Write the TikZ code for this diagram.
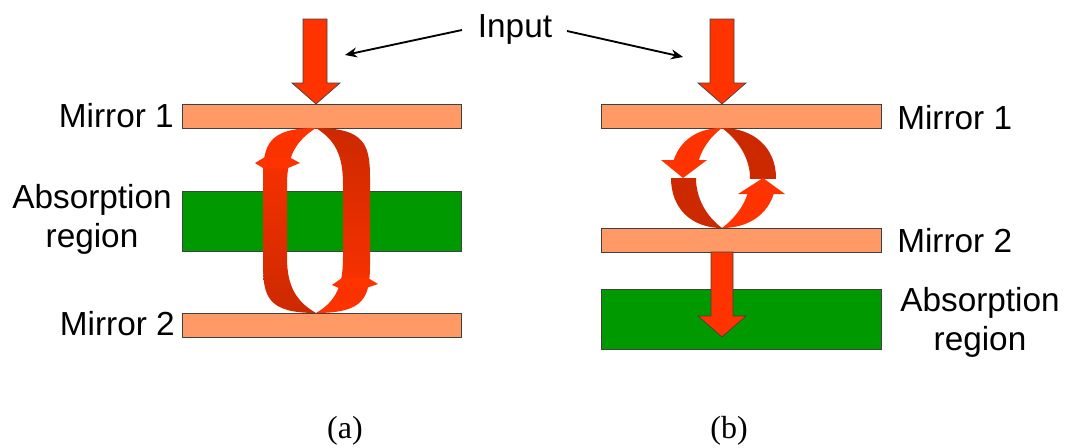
\documentclass[tikz,border=0pt]{standalone}
\usepackage{fontspec}
\setmainfont{Liberation Serif}
\newfontfamily\arialf{Liberation Sans}
\usetikzlibrary{arrows.meta}
\definecolor{bright}{HTML}{FF3300}
\definecolor{dark}{HTML}{CC2900}
\definecolor{mirrorc}{HTML}{FF9966}
\definecolor{greenc}{HTML}{009900}
\definecolor{edgec}{HTML}{404040}
\begin{document}
\begin{tikzpicture}[x=0.75pt,y=-0.75pt,
  lbl/.style={font=\arialf\fontsize{25}{29.25}\selectfont, inner sep=0pt},
  caption/.style={font=\fontsize{24}{28}\selectfont, inner sep=0pt},
  mirror/.style={fill=mirrorc, draw=edgec, line width=0.6pt},
  absorber/.style={fill=greenc, draw=edgec, line width=0.6pt},
  blockarrow/.style={fill=bright, draw=edgec, line width=0.5pt, line join=miter},
  pointer/.style={draw=black, line width=1.4pt, -{Stealth[length=9pt,width=7.5pt]}},
]
\useasboundingbox (0,0) rectangle (1071,447);

% ---------- panel (a) ----------
\path[mirror] (182,104) rectangle (461,128);
\path[absorber] (182,191) rectangle (461,251);
\path[mirror] (182,313) rectangle (461,337);
\path[blockarrow] (303,19) -- (327,19) -- (327,83) -- (340,83) -- (316,104) -- (292,83) -- (303,83) -- cycle;

\path[top color=bright, middle color=bright!85!dark, bottom color=dark]
 (316,128) .. controls (268,128) and (263,145) .. (263,178) -- (263,264)
 .. controls (263,297) and (268,313) .. (316,313)
 .. controls (297,302) and (287,287) .. (287,258) -- (287,184)
 .. controls (287,155) and (297,140) .. (316,128) -- cycle;
\path[top color=dark, middle color=dark!60!bright, bottom color=bright]
 (316,128) .. controls (365,128) and (370,145) .. (370,178) -- (370,264)
 .. controls (370,297) and (365,313) .. (316,313)
 .. controls (335,302) and (343,287) .. (343,258) -- (343,184)
 .. controls (343,155) and (335,140) .. (316,128) -- cycle;
\fill[bright] (255,163) -- (265,157) -- (289,157) -- (300,163) -- (288,168) -- (263,168) -- cycle;
\fill[bright] (332,285) -- (342,278) -- (368,278) -- (378,284) -- (366,288) -- (341,289) -- cycle;

\node[lbl, anchor=base east] (m1a) at (174,127) {Mirror 1};
\node[lbl, anchor=base, align=center] (aba) at (92,247) {Absorption\\region};
\node[lbl, anchor=base east] (m2a) at (175,335) {Mirror 2};
\node[caption, anchor=base] (capa) at (345,438) {(a)};

% ---------- panel (b) ----------
\path[mirror] (601,104) rectangle (881,128);
\path[mirror] (601,228) rectangle (881,252);
\path[absorber] (601,289) rectangle (881,349);
\path[blockarrow] (710,19) -- (734,19) -- (734,83) -- (746,83) -- (722,104) -- (698,83) -- (710,83) -- cycle;
\path[blockarrow] (711,252) -- (733,252) -- (733,316) -- (746,316) -- (722,337) -- (698,316) -- (711,316) -- cycle;

\def\ringBL{(722,128) .. controls (691,128) and (671,148) .. (671,178) .. controls (671,208) and (691,228) .. (722,228) .. controls (706,216) and (696,198) .. (696,178) .. controls (696,158) and (706,140) .. (722,128) -- cycle}
\def\ringBR{(722,128) .. controls (754,128) and (776,148) .. (776,178) .. controls (776,208) and (754,228) .. (722,228) .. controls (738,216) and (750,198) .. (750,178) .. controls (750,158) and (738,140) .. (722,128) -- cycle}
\begin{scope}\clip (640,100) rectangle (800,160); \fill[bright] \ringBL; \end{scope}
\begin{scope}\clip (640,178) rectangle (800,240); \fill[dark] \ringBL; \end{scope}
\begin{scope}\clip (640,100) rectangle (800,178); \fill[dark] \ringBR; \end{scope}
\begin{scope}\clip (640,194) rectangle (800,240); \fill[bright] \ringBR; \end{scope}
\fill[bright] (661,160) -- (707,160) -- (683,178) -- cycle;
\fill[bright] (738,194) -- (785,194) -- (763,178) -- cycle;

\node[lbl, anchor=base west] (m1b) at (897,129) {Mirror 1};
\node[lbl, anchor=base west] (m2b) at (897,252) {Mirror 2};
\node[lbl, anchor=base, align=center] (abb) at (980,350) {Absorption\\region};
\node[caption, anchor=base] (capb) at (729,438) {(b)};

% ---------- input label ----------
\node[lbl, anchor=base] (inp) at (515,37) {Input};
\coordinate (pL) at (462,30);
\coordinate (tL) at (345,55);
\coordinate (pR) at (567,31);
\coordinate (tR) at (683,57);
\draw[pointer] (pL) -- (tL);
\draw[pointer] (pR) -- (tR);
\end{tikzpicture}
\end{document}
